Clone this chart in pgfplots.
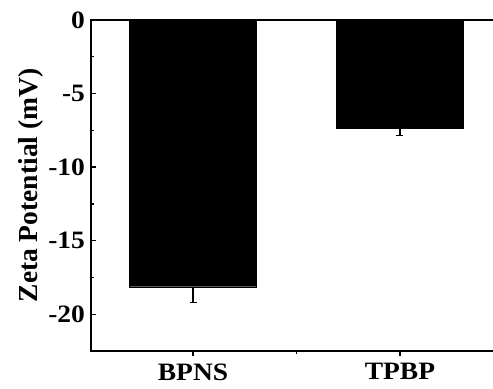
\documentclass[border=0pt]{standalone}
\usepackage{fontspec}
\setmainfont{Liberation Serif}
\usepackage{pgfplots}
\pgfplotsset{compat=1.18}
\begin{document}
\begin{tikzpicture}[x=1pt,y=1pt]
\begin{axis}[
  name=ax,
  scale only axis,
  width=411pt, height=331pt,
  xmin=0.507, xmax=2.493,
  ymin=-22.5, ymax=0,
  xtick={1,2}, xticklabels={BPNS,TPBP},
  minor xtick={1.5},
  ytick={0,-5,-10,-15,-20},
  minor ytick={-2.5,-7.5,-12.5,-17.5,-22.5},
  tick align=inside,
  xtick pos=bottom, ytick pos=left,
  major tick length=5pt, minor tick length=3pt,
  every tick/.style={line width=1.3pt, black},
  axis line style={line width=1.6pt},
  /pgf/number format/assume math mode=true,
  ticklabel style={font=\bfseries\fontsize{25}{28}\selectfont, xscale=1.1},
  yticklabel style={xshift=-2pt},
  xticklabel style={yshift=-4pt},
  ylabel={Zeta Potential (mV)},
  ylabel style={font=\bfseries\fontsize{27.5}{30}\selectfont, yshift=-2pt},
  ybar, bar width=0.614,
]
\addplot[fill=black, draw=black,
  error bars/.cd, y dir=minus, y explicit,
  error bar style={line width=1.3pt, black},
  error mark options={rotate=90, mark size=3.5pt, line width=1.3pt, black}]
  coordinates {(1,-18.13) -= (0,1.07) (2,-7.33) -= (0,0.52)};
\end{axis}
\pgfresetboundingbox
\path[use as bounding box] ([xshift=-91pt,yshift=-38pt]ax.south west) rectangle ([xshift=402pt,yshift=20pt]ax.north west);
\end{tikzpicture}
\end{document}
